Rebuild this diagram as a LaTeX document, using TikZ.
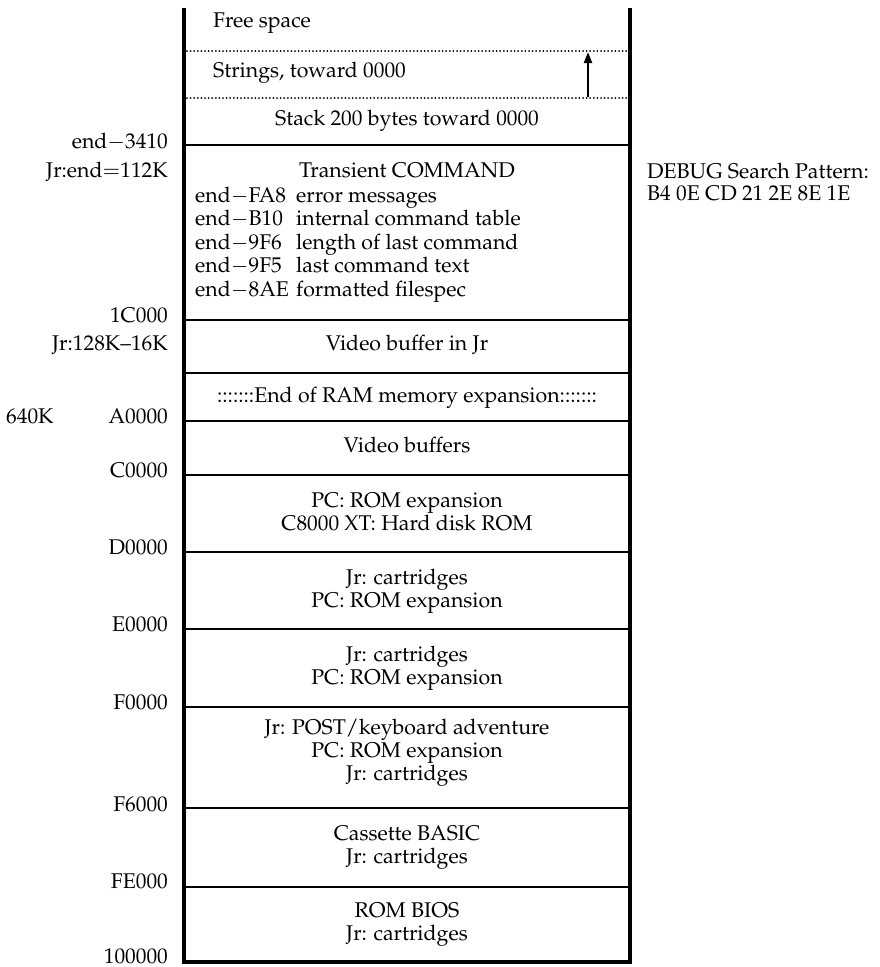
\documentclass[tikz,border=0pt]{standalone}
\usepackage[T1]{fontenc}
\usepackage{mathpazo}
\usetikzlibrary{arrows.meta}
\tikzset{
  lbl/.style={anchor=base east, inner sep=0pt},
  txt/.style={anchor=base, inner sep=0pt},
  ltxt/.style={anchor=base west, inner sep=0pt},
  wall/.style={line width=3.2pt},
  sepline/.style={line width=2.2pt},
  dotline/.style={line width=2pt, line cap=round, dash pattern=on 0pt off 3.6pt},
}
\begin{document}
\begin{tikzpicture}[x=1pt,y=-1pt,font=\fontsize{21.3}{23}\selectfont]
\useasboundingbox (0,0) rectangle (879,967);
% walls
\coordinate (tl) at (184,8);
\coordinate (bl) at (184,962);
\coordinate (tr) at (630,8);
\coordinate (br) at (630,962);
\draw[wall] (tl) -- (bl) -- (br) -- (tr);
% dotted separators
\coordinate (d1l) at (187,51); \coordinate (d1r) at (627,51);
\coordinate (d2l) at (187,98); \coordinate (d2r) at (627,98);
\draw[dotline] (d1l) -- (d1r);
\draw[dotline] (d2l) -- (d2r);
% solid separators
\foreach \y/\n in {145/a,320/b,373/c,421/d,475/e,552/f,629/g,707/h,808/i,887/j}{
  \coordinate (s\n l) at (184,\y); \coordinate (s\n r) at (630,\y);
  \draw[sepline] (s\n l) -- (s\n r);
}
% arrow
\coordinate (arA) at (588,97);
\coordinate (arB) at (588,52);
\draw[line width=2.2pt,-{Triangle[length=11pt,width=8pt]}] (arA) -- (arB);
% left labels
\node[lbl] (l1) at (168,148) {end$-$3410};
\node[lbl] (l2) at (168,177) {Jr:end$=$112K};
\node[lbl] (l3) at (168,322) {1C000};
\node[lbl] (l4) at (168,350) {Jr:128K--16K};
\node[anchor=base west, inner sep=0pt] (l5) at (6,423) {640K};
\node[lbl] (l6) at (168,423) {A0000};
\node[lbl] (l7) at (168,477) {C0000};
\node[lbl] (l8) at (168,554) {D0000};
\node[lbl] (l9) at (168,631) {E0000};
\node[lbl] (l10) at (168,709) {F0000};
\node[lbl] (l11) at (168,811) {F6000};
\node[lbl] (l12) at (168,888) {FE000};
\node[lbl] (l13) at (168,963) {100000};
% right side
\node[ltxt] (dbg1) at (647,178) {DEBUG Search Pattern:};
\node[ltxt] (dbg2) at (647,200) {B4 0E CD 21 2E 8E 1E};
% box contents
\node[ltxt] (t1) at (213,27) {Free space};
\node[ltxt] (t2) at (213,77) {Strings, toward 0000};
\node[txt] (t3) at (407,125) {Stack 200 bytes toward 0000};
\node[txt] (t4) at (407,177) {Transient COMMAND};
\foreach \y/\a/\b [count=\i] in {202/FA8/error messages,225.5/B10/internal command table,249/9F6/length of last command,272.5/9F5/last command text,296/8AE/formatted filespec}{
  \node[ltxt] (ca\i) at (195,\y) {end$-$\a};
  \node[ltxt] (cb\i) at (296,\y) {\b};
}
\node[txt] (t5) at (407,350) {Video buffer in Jr};
\node[txt] (t6) at (407,402) {:::::::End of RAM memory expansion:::::::};
\node[txt] (t7) at (407,452) {Video buffers};
\node[txt] (t8) at (407,507) {PC: ROM expansion};
\node[txt] (t9) at (407,530) {C8000 XT: Hard disk ROM};
\node[txt] (t10) at (407,584) {Jr: cartridges};
\node[txt] (t11) at (407,607) {PC: ROM expansion};
\node[txt] (t12) at (407,661) {Jr: cartridges};
\node[txt] (t13) at (407,684) {PC: ROM expansion};
\node[txt] (t14) at (407,734) {Jr: POST/keyboard adventure};
\node[txt] (t15) at (407,757) {PC: ROM expansion};
\node[txt] (t16) at (407,780) {Jr: cartridges};
\node[txt] (t17) at (407,840) {Cassette BASIC};
\node[txt] (t18) at (407,863) {Jr: cartridges};
\node[txt] (t19) at (407,917) {ROM BIOS};
\node[txt] (t20) at (407,940) {Jr: cartridges};
\end{tikzpicture}
\end{document}
